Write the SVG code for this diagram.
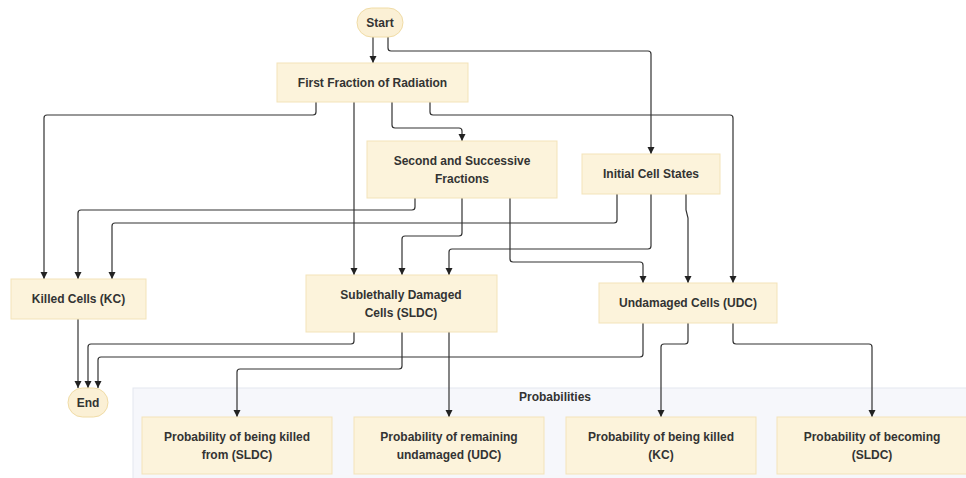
<svg xmlns="http://www.w3.org/2000/svg" width="966" height="478" viewBox="0 0 966 478">
<style>
.box{fill:#fcf3db;stroke:#f3e3b9;stroke-width:1}
.term{fill:#fbf0d5;stroke:#f0dca6;stroke-width:1}
.t{font-family:"Liberation Sans",Arial,sans-serif;font-weight:bold;font-size:12px;fill:#333;text-anchor:middle;dominant-baseline:central}
.c{fill:none;stroke:#333;stroke-width:1.2;marker-end:url(#ah)}
.grp{fill:#f6f7fb;stroke:#e4e8f0;stroke-width:1}
</style>
<defs>
<marker id="ah" markerUnits="userSpaceOnUse" markerWidth="8" markerHeight="8" refX="7" refY="4" orient="auto">
<path d="M0,0.5 L7,4 L0,7.5 z" fill="#222"/>
</marker>
</defs>
<rect width="966" height="478" fill="#ffffff"/>
<g id="probabilities">
<rect class="grp" x="133" y="388" width="840" height="100"/>
<text class="t" x="555" y="397">Probabilities</text>
</g>
<g id="connectors">
<path class="c" d="M373 37V63"/>
<path class="c" d="M388 37V48Q388 51 391 51H648Q651 51 651 54V154"/>
<path class="c" d="M316 102V112Q316 115 313 115H47Q44 115 44 118V279"/>
<path class="c" d="M354 102V275"/>
<path class="c" d="M392 102V125Q392 128 395 128H459Q462 128 462 131V141"/>
<path class="c" d="M430 102V112Q430 115 433 115H730Q733 115 733 118V283"/>
<path class="c" d="M415 198V207Q415 210 412 210H81Q78 210 78 213V279"/>
<path class="c" d="M462 198V233Q462 236 459 236H405Q402 236 402 239V275"/>
<path class="c" d="M510 198V259Q510 262 513 262H640Q643 262 643 265V283"/>
<path class="c" d="M617 194V220Q617 223 614 223H115Q112 223 112 226V279"/>
<path class="c" d="M651 194V246Q651 249 648 249H452Q449 249 449 252V275"/>
<path class="c" d="M686 194V210L688 218V283"/>
<path class="c" d="M78 319V388"/>
<path class="c" d="M354 332V341Q354 344 351 344H91Q88 344 88 347V388"/>
<path class="c" d="M643 323V354Q643 357 640 357H101Q98 357 98 360V388"/>
<path class="c" d="M402 332V366Q402 369 399 369H240Q237 369 237 372V417"/>
<path class="c" d="M449 332V417"/>
<path class="c" d="M688 323V341Q688 344 685 344H664Q661 344 661 347V417"/>
<path class="c" d="M733 323V341Q733 344 736 344H869Q872 344 872 347V417"/>
</g>
<g id="start">
<rect class="term" x="357" y="8" width="46" height="29" rx="14.5"/>
<text class="t" x="380" y="23">Start</text>
</g>
<g id="first-fraction">
<rect class="box" x="277" y="63" width="191" height="39"/>
<text class="t" x="372.5" y="83">First Fraction of Radiation</text>
</g>
<g id="second-fractions">
<rect class="box" x="367" y="141" width="190" height="57"/>
<text class="t" x="462" y="161">Second and Successive</text>
<text class="t" x="462" y="179">Fractions</text>
</g>
<g id="initial-cell-states">
<rect class="box" x="582" y="154" width="138" height="40"/>
<text class="t" x="651" y="174">Initial Cell States</text>
</g>
<g id="killed-cells">
<rect class="box" x="11" y="279" width="135" height="40"/>
<text class="t" x="78.5" y="299">Killed Cells (KC)</text>
</g>
<g id="sldc">
<rect class="box" x="306" y="275" width="191" height="57"/>
<text class="t" x="401" y="295">Sublethally Damaged</text>
<text class="t" x="401" y="313">Cells (SLDC)</text>
</g>
<g id="udc">
<rect class="box" x="599" y="283" width="178" height="40"/>
<text class="t" x="688" y="303">Undamaged Cells (UDC)</text>
</g>
<g id="end">
<rect class="term" x="68" y="388" width="40" height="29" rx="14.5"/>
<text class="t" x="88" y="403">End</text>
</g>
<g id="prob-killed-sldc">
<rect class="box" x="142" y="417" width="190" height="57"/>
<text class="t" x="237" y="437">Probability of being killed</text>
<text class="t" x="237" y="455">from (SLDC)</text>
</g>
<g id="prob-remaining-udc">
<rect class="box" x="354" y="417" width="190" height="57"/>
<text class="t" x="449" y="437">Probability of remaining</text>
<text class="t" x="449" y="455">undamaged (UDC)</text>
</g>
<g id="prob-killed-kc">
<rect class="box" x="566" y="417" width="190" height="57"/>
<text class="t" x="661" y="437">Probability of being killed</text>
<text class="t" x="661" y="455">(KC)</text>
</g>
<g id="prob-becoming-sldc">
<rect class="box" x="777" y="417" width="190" height="57"/>
<text class="t" x="872" y="437">Probability of becoming</text>
<text class="t" x="872" y="455">(SLDC)</text>
</g>
</svg>
